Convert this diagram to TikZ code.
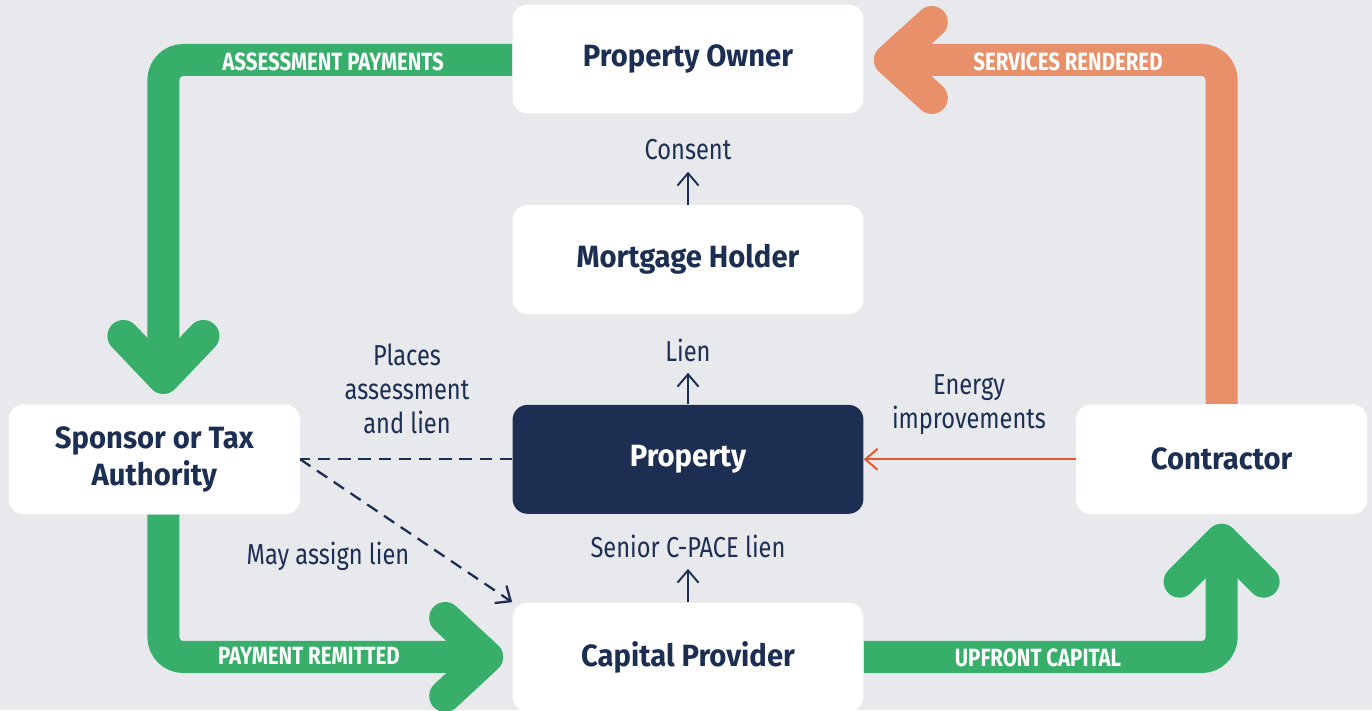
\documentclass[tikz,border=0pt]{standalone}
\usepackage{fontspec}
\setmainfont{Fira Sans}
\newfontfamily\boxfont[FakeStretch=0.95]{Fira Sans}
\newfontfamily\labelfont[FakeStretch=0.82]{Fira Sans}
\usetikzlibrary{arrows.meta, positioning, calc}
\definecolor{navy}{HTML}{1C2E52}
\definecolor{bggray}{HTML}{E8E9ED}
\definecolor{bandgreen}{HTML}{37AE6A}
\definecolor{bandorange}{HTML}{E8906A}
\definecolor{energyred}{HTML}{E8552A}

\begin{document}
\begin{tikzpicture}[x=0.02cm, y=0.02cm,
        party/.style={rectangle, rounded corners=0.3cm, fill=white, text=navy, font=\boxfont\bfseries\fontsize{17.5}{21}\selectfont, align=center, minimum width=7.02cm, minimum height=2.18cm},
        sideparty/.style={party, minimum width=5.82cm, minimum height=2.2cm},
        flowlabel/.style={text=navy, font=\labelfont\fontsize{16.4}{19.3}\selectfont, align=center},
        bandlabel/.style={text=white, font=\labelfont\bfseries\fontsize{14.2}{16}\selectfont},
        band/.style={line width=0.64cm, rounded corners=0.4cm},
        head/.style={line width=0.64cm, line cap=round, line join=round},
        flow/.style={-{Straight Barb[length=7pt, width=12pt]}, line width=1.1pt, draw=navy},
        dashflow/.style={line width=1.3pt, draw=navy, dash pattern=on 7pt off 4.5pt}
    ]
            \fill[bggray] (0,0) rectangle (1372,710);
            \useasboundingbox (0,0) rectangle (1372,710);

            \node[party] (owner) at (688,651) {Property Owner};
            \node[party, below=1.82cm of owner] (mortgage) {Mortgage Holder};
            \node[party, below=1.8cm of mortgage, fill=navy, text=white] (property) {Property};
            \node[party, below=1.76cm of property] (capital) {Capital Provider};
            \node[sideparty, left=4.24cm of property] (sponsor) {Sponsor or Tax\\Authority};
            \node[sideparty, right=4.24cm of property] (contractor) {Contractor};

            % Payment bands
            \coordinate (lt) at ($(sponsor.north)+(9,26)$);
            \coordinate (lb) at ($(capital.west)+(-25,0)$);
            \coordinate (rb) at ($(contractor.south)+(0,-25)$);
            \coordinate (ot) at ($(owner.east)+(26,-1)$);

            \draw[band, draw=bandgreen] ($(owner.west)+(0,-1)$) -| (lt);
            \draw[head, draw=bandgreen] ($(lt)+(-40,42)$) -- (lt) -- ($(lt)+(40,42)$);
            \draw[band, draw=bandgreen] ($(sponsor.south)+(9,0)$) |- (lb);
            \draw[head, draw=bandgreen] ($(lb)+(-42,39)$) -- (lb) -- ($(lb)+(-42,-39)$);
            \draw[band, draw=bandgreen] (capital.east) -| (rb);
            \draw[head, draw=bandgreen] ($(rb)+(-42,-42)$) -- (rb) -- ($(rb)+(42,-42)$);
            \draw[band, draw=bandorange] (contractor.north) |- (ot);
            \draw[head, draw=bandorange] ($(ot)+(42,38)$) -- (ot) -- ($(ot)+(42,-38)$);

            \node[bandlabel] (assess) at (333,648) {ASSESSMENT PAYMENTS};
            \node[bandlabel] (remit) at (309,54) {PAYMENT REMITTED};
            \node[bandlabel] (upfront) at (1038,52) {UPFRONT CAPITAL};
            \node[bandlabel] (services) at (1068,648) {SERVICES RENDERED};

            % Relations
            \node[flowlabel] (consent) at (688,560) {Consent};
            \node[flowlabel] (lien) at (688,360) {Lien};
            \node[flowlabel] (senior) at (688,164) {Senior C-PACE lien};
            \node[flowlabel] (places) at (407,321) {Places\\assessment\\and lien};
            \node[flowlabel] (assign) at (328,154) {May assign lien};
            \node[flowlabel] (energy) at (969,305) {Energy\\improvements};

            \draw[flow, shorten >=3pt] (mortgage.north) -- (consent.south);
            \draw[flow, shorten >=3pt] (property.north) -- (lien.south);
            \draw[flow, shorten >=3pt] (capital.north) -- (senior.south);
            \draw[dashflow] (property.west) -- (sponsor.east);
            \draw[dashflow, -{Straight Barb[length=7pt, width=12pt]}] (sponsor.east) -- (capital.north west);
            \draw[flow, draw=energyred] (contractor.west) -- (property.east);
    \end{tikzpicture}
\end{document}
